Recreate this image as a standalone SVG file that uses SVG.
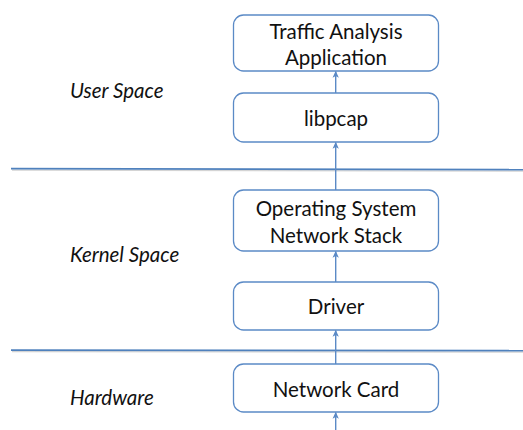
<svg xmlns="http://www.w3.org/2000/svg" width="523" height="430" viewBox="0 0 523 430">
  <style>
    .box { fill: #ffffff; stroke: #5b8ac6; stroke-width: 1.3; }
    .lbl { font-family: Lato, "Open Sans", "Liberation Sans", sans-serif; font-size: 20.5px; fill: #111111; text-anchor: middle; }
    .zone { font-family: Lato, "Open Sans", "Liberation Sans", sans-serif; font-size: 20.5px; font-style: italic; fill: #111111; }
    .sep { stroke: #4f81bd; stroke-width: 1.8; fill: none; }
    .sepshadow { stroke: #d4d4d4; stroke-width: 1.2; fill: none; }
    .conn { stroke: #5b8ac6; stroke-width: 1.4; fill: none; marker-end: url(#head); }
  </style>
  <defs>
    <marker id="head" viewBox="0 0 10 10" refX="9" refY="5" markerWidth="7" markerHeight="7" markerUnits="userSpaceOnUse" orient="auto">
      <path d="M0,0.5 L10,5 L0,9.5 L2.5,5 Z" fill="#5b8ac6"/>
    </marker>
  </defs>

  <rect width="523" height="430" fill="#ffffff"/>

  <!-- layer separators -->
  <g id="separators">
    <line class="sepshadow" x1="12" y1="170.2" x2="523" y2="171.2"/>
    <line class="sep" x1="11" y1="168.7" x2="523" y2="169.7"/>
    <line class="sepshadow" x1="12" y1="351.7" x2="523" y2="352.2"/>
    <line class="sep" x1="11" y1="350.2" x2="523" y2="350.7"/>
  </g>

  <!-- layer names -->
  <g id="zones">
    <text class="zone" x="70" y="98">User Space</text>
    <text class="zone" x="70" y="262">Kernel Space</text>
    <text class="zone" x="70" y="405">Hardware</text>
  </g>

  <!-- connectors -->
  <g id="connectors">
    <line class="conn" x1="335.7" y1="93" x2="335.7" y2="71.5"/>
    <line class="conn" x1="335.7" y1="190" x2="335.7" y2="142.5"/>
    <line class="conn" x1="335.7" y1="282" x2="335.7" y2="251.5"/>
    <line class="conn" x1="335.7" y1="364" x2="335.7" y2="330.5"/>
    <line class="conn" x1="335.7" y1="430" x2="335.7" y2="412.5"/>
  </g>

  <g id="app">
    <rect class="box" x="233.5" y="15" width="205" height="56" rx="10"/>
    <text class="lbl" x="336" y="39">Traffic Analysis</text>
    <text class="lbl" x="336" y="65">Application</text>
  </g>

  <g id="libpcap">
    <rect class="box" x="233.5" y="93" width="205" height="49" rx="10"/>
    <text class="lbl" x="336" y="126">libpcap</text>
  </g>

  <g id="netstack">
    <rect class="box" x="233.5" y="190" width="205" height="61" rx="10"/>
    <text class="lbl" x="336" y="216">Operating System</text>
    <text class="lbl" x="336" y="243">Network Stack</text>
  </g>

  <g id="driver">
    <rect class="box" x="233.5" y="282" width="205" height="48" rx="10"/>
    <text class="lbl" x="336" y="314">Driver</text>
  </g>

  <g id="nic">
    <rect class="box" x="233.5" y="364" width="205" height="48" rx="10"/>
    <text class="lbl" x="336" y="397">Network Card</text>
  </g>
</svg>
